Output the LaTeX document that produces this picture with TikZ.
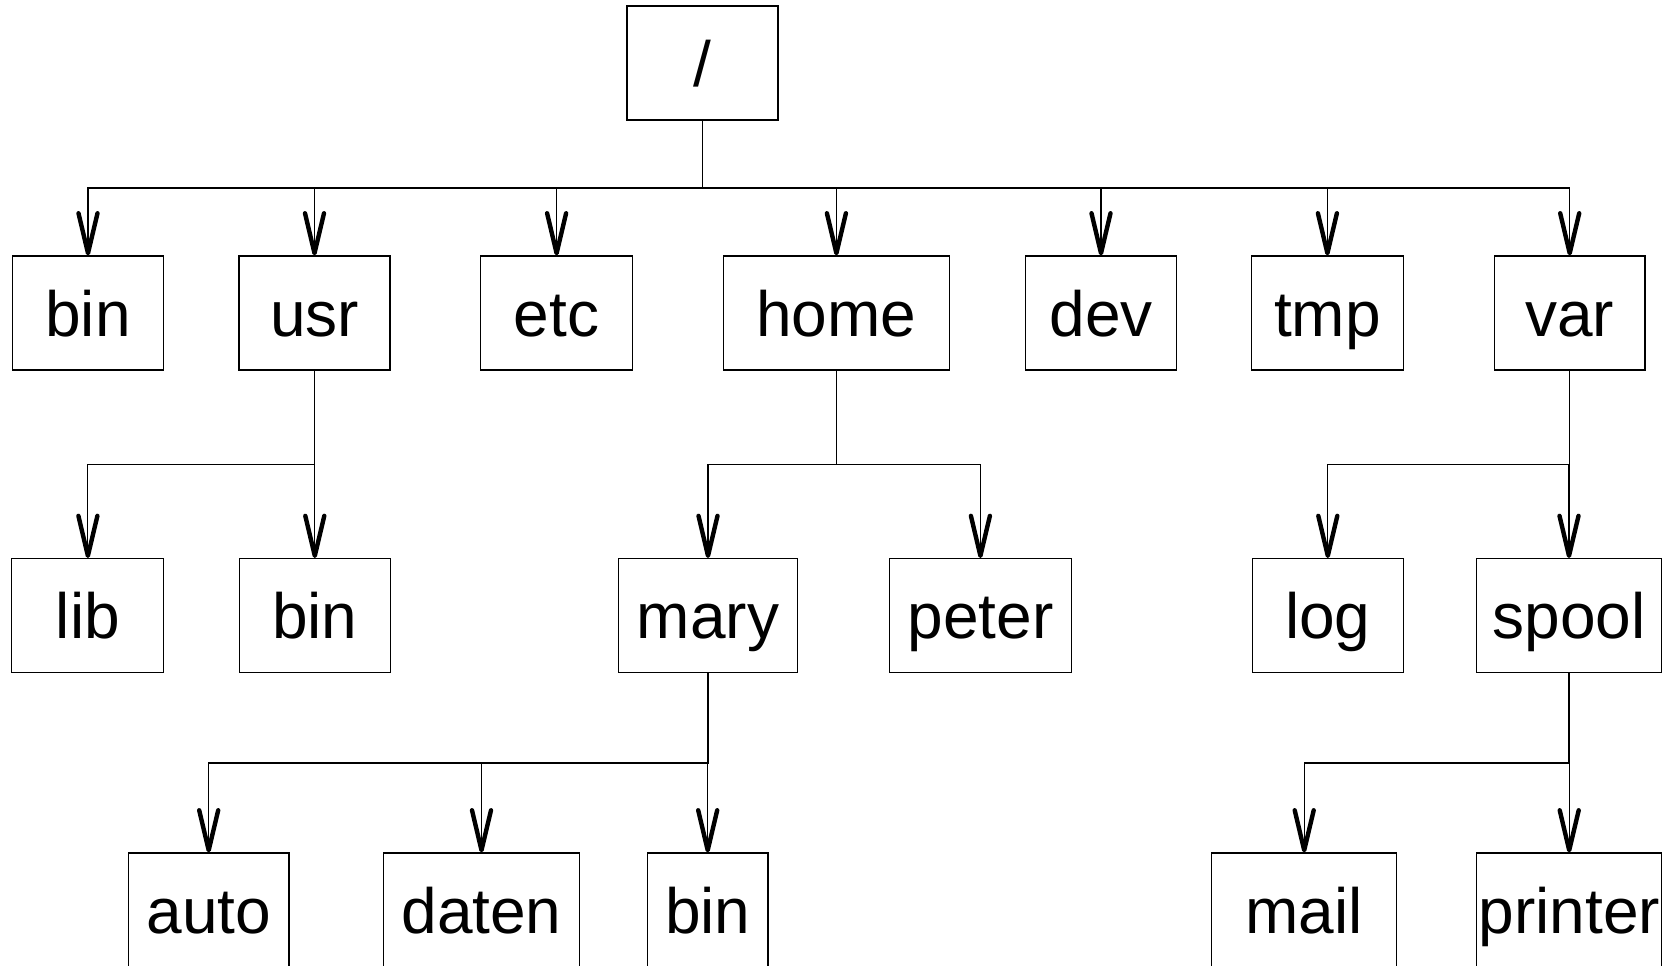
\documentclass[tikz,border=0pt]{standalone}
\usepackage{fontspec}
\setmainfont{Liberation Sans}
\usetikzlibrary{arrows.meta}
\begin{document}
\begin{tikzpicture}[x=0.5pt,y=-0.5pt,
  box/.style={draw=black, line width=0.55pt, minimum height=57pt, inner sep=0pt,
    text height=23pt, text depth=0pt, font=\fontsize{32}{32}\selectfont},
  conn/.style={draw=black, line width=0.55pt,
    -{Straight Barb[length=20pt, width=9.5pt, line width=2.2pt, round]}},
  stem/.style={draw=black, line width=0.55pt}]
\useasboundingbox (0,0) rectangle (1674,965);
\clip (0,0) rectangle (1674,965);
% root
\node[box, minimum width=75.5pt] (root) at (702.5,63) {/};
% level 1
\node[box, minimum width=75.5pt] (bin1) at (88,313) {bin};
\node[box, minimum width=75.5pt] (usr) at (314.5,313) {usr};
\node[box, minimum width=76pt] (etc) at (556.6,313) {etc};
\node[box, minimum width=113.3pt] (home) at (836.4,313) {home};
\node[box, minimum width=75.3pt] (dev) at (1101,313) {dev};
\node[box, minimum width=75.9pt] (tmp) at (1327.4,313) {tmp};
\node[box, minimum width=75.3pt] (var) at (1569.7,313) {var};
% level 2
\node[box, minimum width=76pt] (lib) at (87.9,615.6) {lib};
\node[box, minimum width=75.6pt] (bin2) at (314.8,615.6) {bin};
\node[box, minimum width=89.5pt] (mary) at (708,615.6) {mary};
\node[box, minimum width=91pt] (peter) at (980.4,615.6) {peter};
\node[box, minimum width=75.5pt] (log) at (1327.8,615.6) {log};
\node[box, minimum width=92.7pt] (spool) at (1569,615.6) {spool};
% level 3
\node[box, minimum width=80.3pt] (auto) at (208.7,910) {auto};
\node[box, minimum width=98pt] (daten) at (481.5,910) {daten};
\node[box, minimum width=60.3pt] (bin3) at (707.7,910) {bin};
\node[box, minimum width=92.5pt] (mail) at (1304.2,910) {mail};
\node[box, minimum width=92.5pt] (printer) at (1569.2,910) {printer};
% bus lines
\coordinate (busA) at (0,188);
\coordinate (busU) at (0,464.3);
\coordinate (busH) at (0,464.3);
\coordinate (busV) at (0,464.3);
\coordinate (busM) at (0,763);
\coordinate (busS) at (0,763);
% connectors
\foreach \c in {bin1,usr,etc,home,dev,tmp,var}
  \draw[conn] (root.south) |- (busA -| \c.north) -- (\c.north);
\foreach \c in {lib,bin2}
  \draw[conn] (usr.south) |- (busU -| \c.north) -- (\c.north);
\foreach \c in {mary,peter}
  \draw[conn] (home.south) |- (busH -| \c.north) -- (\c.north);
\foreach \c in {log,spool}
  \draw[conn] (var.south) |- (busV -| \c.north) -- (\c.north);
\foreach \c in {auto,daten,bin3}
  \draw[conn] (mary.south) |- (busM -| \c.north) -- (\c.north);
\foreach \c in {mail,printer}
  \draw[conn] (spool.south) |- (busS -| \c.north) -- (\c.north);
\end{tikzpicture}
\end{document}
